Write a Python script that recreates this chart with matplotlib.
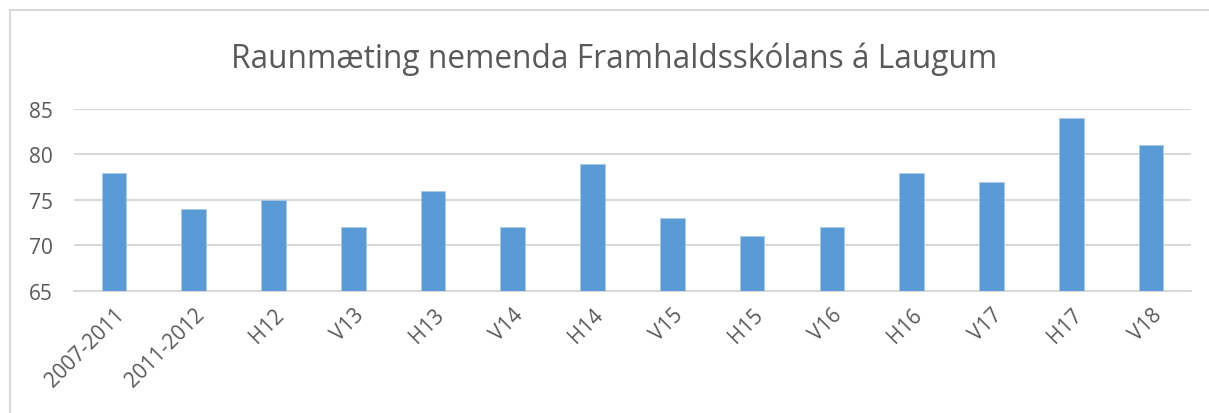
import matplotlib.pyplot as plt
from matplotlib.patches import Rectangle

# Data
periods = ['2007-2011', '2011-2012', 'H12', 'V13', 'H13', 'V14', 'H14',
           'V15', 'H15', 'V16', 'H16', 'V17', 'H17', 'V18']
scores = [78, 74, 75, 72, 76, 72, 79, 73, 71, 72, 78, 77, 84, 81]
y_ticks = [65, 70, 75, 80, 85]

plt.rcParams['font.family'] = ['Open Sans', 'DejaVu Sans']

fig = plt.figure(figsize=(12.09, 4.14), dpi=100)
ax = fig.add_axes([0.0612, 0.2947, 0.9238, 0.4396])

# light frame around the whole chart like the Excel chart area
fig.patches.append(Rectangle((10 / 1209, -0.05), 1.1, 1 - 11 / 414 + 0.05,
                             transform=fig.transFigure, fill=False,
                             edgecolor='#d9d9d9', linewidth=1.5))

x = range(len(periods))
ax.bar(x, [s - 65 for s in scores], bottom=65, width=0.31, color='#5b9bd5',
       edgecolor='#a9c9ea', linewidth=0.6, zorder=3)

ax.set_xlim(-0.5, len(periods) - 0.5)
ax.set_ylim(65, 85)
ax.set_yticks(y_ticks)
ax.yaxis.grid(True, color='#d9d9d9', linewidth=1.5, zorder=0)
ax.set_xticks(list(x))
ax.set_xticklabels(periods, rotation=45, ha='right', rotation_mode='anchor')
ax.tick_params(axis='both', length=0, labelsize=15, colors='#595959')
ax.tick_params(axis='x', pad=9)
ax.tick_params(axis='y', pad=15)

for side in ['top', 'right', 'left']:
    ax.spines[side].set_visible(False)
ax.spines['bottom'].set_color('#d9d9d9')
ax.spines['bottom'].set_linewidth(1.5)

fig.text(0.508, 0.858, 'Raunmæting nemenda Framhaldsskólans á Laugum',
         ha='center', va='center', fontsize=22.8, color='#595959')

fig.savefig('out.png', dpi=100)
